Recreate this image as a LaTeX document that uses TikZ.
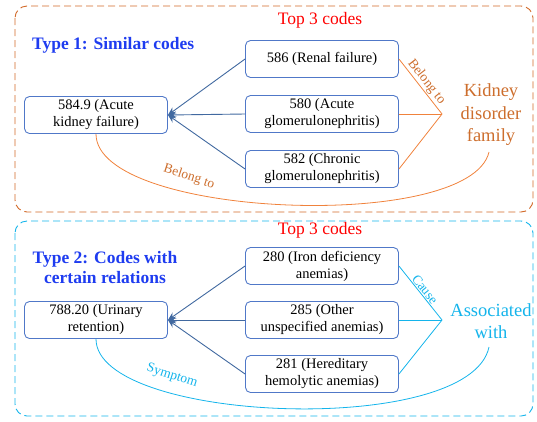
\documentclass[tikz,border=0pt]{standalone}
\usepackage{fontspec}
\setmainfont{Liberation Serif}
\usetikzlibrary{arrows.meta}
\definecolor{boxblue}{RGB}{80,120,200}
\definecolor{arrblue}{RGB}{65,105,160}
\definecolor{orline}{RGB}{240,130,60}
\definecolor{ortext}{RGB}{205,110,45}
\definecolor{orframe}{RGB}{210,105,40}
\definecolor{cyanc}{RGB}{20,180,235}
\definecolor{titleblue}{RGB}{30,60,240}
\tikzset{
  codebox/.style={draw=boxblue, line width=0.9pt, rounded corners=5pt, minimum width=153pt, minimum height=37pt, align=center, font=\fontsize{14.5}{17}\selectfont, inner sep=1pt},
  leftbox/.style={codebox, minimum width=143pt},
  frame/.style={dashed, dash pattern=on 7pt off 4pt, line width=0.9pt, rounded corners=12pt},
  conn/.style={arrblue, line width=0.9pt},
  conntip/.style={conn, -{Stealth[length=8pt,width=7pt]}},
  rel/.style={line width=0.8pt},
  reltext/.style={font=\fontsize{13.5}{15}\selectfont},
  toptitle/.style={red, font=\fontsize{17.5}{20}\selectfont},
  typetitle/.style={titleblue, font=\bfseries\fontsize{17.5}{20}\selectfont, align=center},
  famtext/.style={font=\fontsize{18.5}{22.5}\selectfont, align=center}
}
\begin{document}
\begin{tikzpicture}[x=1pt,y=-1pt]
\useasboundingbox (0,0) rectangle (537,421);
% frames
\draw[frame, orframe] (15,6) rectangle (533,212);
\draw[frame, cyanc] (15,221) rectangle (533,416);
% ---------- Type 1 ----------
\node[typetitle, anchor=west, inner sep=0pt] (t1) at (32,45) {Type 1: Similar codes};
\node[toptitle] (top1) at (320,20) {Top 3 codes};
\node[leftbox] (a) at (96,115) {584.9 (Acute\\kidney failure)};
\node[codebox] (b1) at (322,59) {586 (Renal failure)};
\node[codebox] (b2) at (322,114) {580 (Acute\\glomerulonephritis)};
\node[codebox] (b3) at (322,169) {582 (Chronic\\glomerulonephritis)};
\node[famtext, ortext] (fam) at (491,115) {Kidney\\disorder\\family};
\coordinate (j1) at (442,114);
\draw[conntip] (b1.west) -- (a.east);
\draw[conntip] (b2.west) -- (a.east);
\draw[conntip] (b3.west) -- (a.east);
\draw[rel, orline] (b1.east) -- node[sloped, above, pos=0.5, reltext, ortext, inner sep=1pt] {Belong to} (j1);
\draw[rel, orline] (b2.east) -- (j1);
\draw[rel, orline] (b3.east) -- (j1);
\draw[rel, orline] (a.south) .. controls (96,218) and (470,233) .. (489,152);
\node[reltext, ortext, rotate=-18] (bl) at (189,177) {Belong to};
% ---------- Type 2 ----------
\node[typetitle] (t2) at (105,268) {Type 2: Codes with\\certain relations};
\node[toptitle] (top2) at (320,230) {Top 3 codes};
\node[leftbox] (c) at (96,320) {788.20 (Urinary\\retention)};
\node[codebox] (d1) at (322,266) {280 (Iron deficiency\\anemias)};
\node[codebox] (d2) at (322,320) {285 (Other\\unspecified anemias)};
\node[codebox] (d3) at (322,374) {281 (Hereditary\\hemolytic anemias)};
\node[famtext, cyanc] (ass) at (491,321) {Associated\\with};
\coordinate (j2) at (442,320);
\draw[conntip] (d1.west) -- (c.east);
\draw[conntip] (d2.west) -- (c.east);
\draw[conntip] (d3.west) -- (c.east);
\draw[rel, cyanc] (d1.east) -- node[sloped, above, pos=0.5, reltext, inner sep=1pt] {Cause} (j2);
\draw[rel, cyanc] (d2.east) -- (j2);
\draw[rel, cyanc] (d3.east) -- (j2);
\draw[rel, cyanc] (c.south) .. controls (96,423) and (470,438) .. (489,347);
\node[reltext, cyanc, rotate=-18] (sy) at (172,376) {Symptom};
\end{tikzpicture}
\end{document}
